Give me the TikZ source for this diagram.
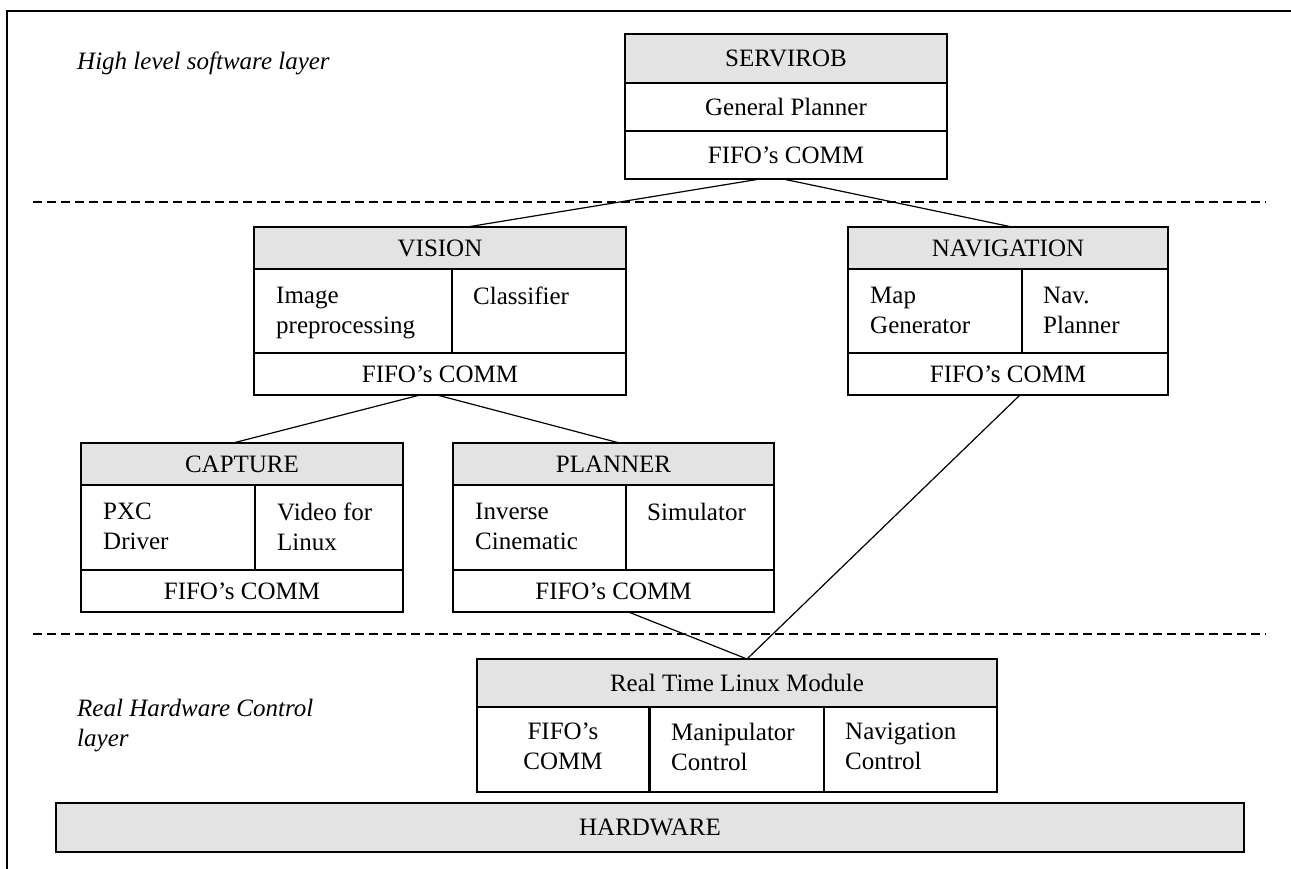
\documentclass[tikz,border=0pt]{standalone}
\usepackage{fontspec}
\setmainfont{Liberation Serif}
\usetikzlibrary{positioning}

\definecolor{headgray}{RGB}{227,227,227}
\tikzset{
  box/.style={draw, line width=1.6pt, outer sep=0pt, inner sep=0pt, anchor=north west,
    font=\fontsize{25}{30}\selectfont},
  head/.style={box, fill=headgray},
  txt/.style={inner sep=0pt, anchor=north west, align=left, font=\fontsize{25}{30}\selectfont},
  layer/.style={txt, font=\fontsize{25}{30}\selectfont\itshape},
  link/.style={line width=1.2pt},
  sep/.style={line width=1.6pt, dash pattern=on 9pt off 5pt}
}

\begin{document}
\begin{tikzpicture}[x=1pt, y=-1pt]
  \useasboundingbox (0,0) rectangle (1291,869);
  \draw[line width=2pt] (7,869) -- (7,11) -- (1291,11);

  % layers
  \node[layer] (hlsw) at (77,52) {High level software layer};
  \node[layer] (rhwc) at (77,699) {Real Hardware Control\\layer};
  \draw[sep] (33,202) -- (1266,202);
  \draw[sep] (33,634) -- (1266,634);

  % SERVIROB
  \node[head, minimum width=322pt, minimum height=49pt] (srv) at (625,34) {SERVIROB};
  \node[box, minimum width=322pt, minimum height=48pt, below=0pt of srv] (srvplan) {General Planner};
  \node[box, minimum width=322pt, minimum height=48pt, below=0pt of srvplan] (srvfifo) {FIFO's COMM};

  % VISION
  \node[head, minimum width=372pt, minimum height=42pt] (vis) at (254,227) {VISION};
  \node[box, minimum width=198pt, minimum height=84pt] (visimg) at (vis.south west) {};
  \node[box, minimum width=174pt, minimum height=84pt, right=0pt of visimg] (viscls) {};
  \node[box, minimum width=372pt, minimum height=42pt] (visfifo) at (visimg.south west) {FIFO's COMM};
  \node[txt] (visimgt) at ([shift={(22,18)}]visimg.north west) {Image\\preprocessing};
  \node[txt] (visclst) at ([shift={(21,18)}]viscls.north west) {Classifier};

  % NAVIGATION
  \node[head, minimum width=320pt, minimum height=42pt] (nav) at (848,227) {NAVIGATION};
  \node[box, minimum width=174pt, minimum height=84pt] (navmap) at (nav.south west) {};
  \node[box, minimum width=146pt, minimum height=84pt, right=0pt of navmap] (navpln) {};
  \node[box, minimum width=320pt, minimum height=42pt] (navfifo) at (navmap.south west) {FIFO's COMM};
  \node[txt] (navmapt) at ([shift={(22,18)}]navmap.north west) {Map\\Generator};
  \node[txt] (navplnt) at ([shift={(21,18)}]navpln.north west) {Nav.\\Planner};

  % CAPTURE
  \node[head, minimum width=322pt, minimum height=42pt] (cap) at (81,443) {CAPTURE};
  \node[box, minimum width=174pt, minimum height=85pt] (cappxc) at (cap.south west) {};
  \node[box, minimum width=148pt, minimum height=85pt, right=0pt of cappxc] (capvid) {};
  \node[box, minimum width=322pt, minimum height=42pt] (capfifo) at (cappxc.south west) {FIFO's COMM};
  \node[txt] (cappxct) at ([shift={(22,18)}]cappxc.north west) {PXC\\Driver};
  \node[txt] (capvidt) at ([shift={(22,18)}]capvid.north west) {Video for\\Linux};

  % PLANNER
  \node[head, minimum width=321pt, minimum height=42pt] (pln) at (453,443) {PLANNER};
  \node[box, minimum width=173pt, minimum height=85pt] (plninv) at (pln.south west) {};
  \node[box, minimum width=148pt, minimum height=85pt, right=0pt of plninv] (plnsim) {};
  \node[box, minimum width=321pt, minimum height=42pt] (plnfifo) at (plninv.south west) {FIFO's COMM};
  \node[txt] (plninvt) at ([shift={(22,18)}]plninv.north west) {Inverse\\Cinematic};
  \node[txt] (plnsimt) at ([shift={(21,18)}]plnsim.north west) {Simulator};

  % real time module
  \node[head, minimum width=520pt, minimum height=48pt] (rtl) at (477,659) {Real Time Linux Module};
  \node[box, minimum width=172pt, minimum height=85pt] (rtlfifo) at (rtl.south west) {};
  \node[box, minimum width=175pt, minimum height=85pt, right=0pt of rtlfifo] (rtlman) {};
  \node[box, minimum width=173pt, minimum height=85pt, right=0pt of rtlman] (rtlnav) {};
  \draw[line width=3pt] (rtlman.north west) -- (rtlman.south west);
  \node[txt, anchor=north, align=center] (rtlfifot) at ([yshift=-16pt]rtlfifo.north) {FIFO's\\COMM};
  \node[txt] (rtlmant) at ([shift={(22,16)}]rtlman.north west) {Manipulator\\Control};
  \node[txt] (rtlnavt) at ([shift={(21,16)}]rtlnav.north west) {Navigation\\Control};

  \node[head, minimum width=1188pt, minimum height=49pt] (hw) at (56,803) {HARDWARE};

  % links between modules
  \draw[link] ([xshift=-26pt]srvfifo.south) -- ([xshift=27pt]vis.north);
  \draw[link] ([xshift=-3pt]srvfifo.south) -- ([xshift=4pt]nav.north);
  \draw[link] ([xshift=-20pt]visfifo.south) -- ([xshift=-9pt]cap.north);
  \draw[link] ([xshift=-3pt]visfifo.south) -- ([xshift=6pt]pln.north);
  \draw[link] ([xshift=15pt]plnfifo.south) -- ([xshift=10pt]rtl.north);
  \draw[link] ([xshift=12pt]navfifo.south) -- ([xshift=10pt]rtl.north);
\end{tikzpicture}
\end{document}
